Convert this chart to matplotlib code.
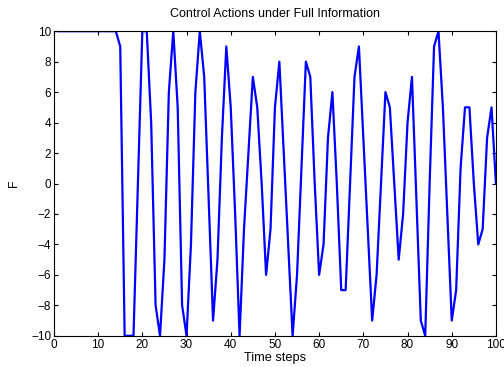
import matplotlib
matplotlib.use('Agg')
import matplotlib.pyplot as plt
import numpy as np

plt.rcParams['font.family'] = ['Liberation Sans', 'DejaVu Sans']

# control action F at each time step
steps = np.arange(1, 101)
F = [10, 10, 10, 10, 10, 10, 10, 10, 10, 10,
     10, 10, 10, 10, 9, -10, -10, -10, 0, 10,
     10, 4, -8, -10, -5, 6, 10, 5, -8, -10,
     -4, 6, 10, 7, -1, -9, -5, 3, 9, 5,
     -2, -10, -3, 2, 7, 5, 0, -6, -3, 5,
     8, 2, -4, -10, -6, 1, 8, 7, 0, -6,
     -4, 3, 6, 0, -7, -7, 0, 7, 9, 3,
     -3, -9, -6, 0, 6, 5, 0, -5, -2, 4,
     7, -1, -9, -10, 0, 9, 10, 5, -2, -9,
     -7, 1, 5, 5, 0, -4, -3, 3, 5, 0]

fig = plt.figure(figsize=(5.04, 3.67), dpi=100)
ax = fig.add_axes([0.107, 0.085, 0.877, 0.83])
ax.plot(steps, F, color='#0000ff', linewidth=1.6)

ax.set_xlim(0, 100)
ax.set_ylim(-10, 10)
ax.set_xticks(np.arange(0, 101, 10))
ax.set_yticks(np.arange(-10, 11, 2))
ax.set_yticklabels([str(v).replace('-', '\u2212') for v in range(-10, 11, 2)])
ax.tick_params(direction='in', top=True, right=True, labelsize=8.5, length=3, pad=2)
for s in ax.spines.values():
    s.set_linewidth(0.8)

ax.set_title('Control Actions under Full Information', fontsize=9, pad=10)
ax.set_xlabel('Time steps', fontsize=9.2, labelpad=1)
ax.set_ylabel('F', fontsize=9, labelpad=8)

fig.savefig('out.png', dpi=100)
